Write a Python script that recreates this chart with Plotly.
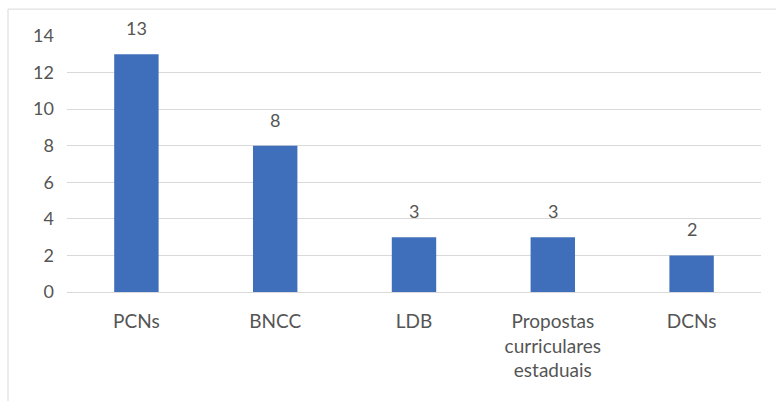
import plotly.graph_objects as go

categories = ["PCNs", "BNCC", "LDB", "Propostas<br>curriculares<br>estaduais", "DCNs"]
values = [13, 8, 3, 3, 2]
y_ticks = [0, 2, 4, 6, 8, 10, 12, 14]

font_family = "Lato, 'Open Sans', sans-serif"
text_color = "#555555"

fig = go.Figure(go.Bar(
    x=categories, y=values,
    marker=dict(color="#3F6FBA", line=dict(width=0)),
    cliponaxis=False,
))

for c, v in zip(categories, values):
    fig.add_annotation(x=c, y=v, text=str(v), showarrow=False, yanchor="middle",
                       yshift=26, font=dict(size=18, color=text_color, family=font_family))

fig.update_layout(
    width=776, height=401,
    margin=dict(l=67, r=15, t=36, b=109),
    paper_bgcolor="white", plot_bgcolor="white",
    bargap=0.68,
    showlegend=False,
    font=dict(family=font_family, size=18, color=text_color),
    xaxis=dict(showgrid=False, showline=True, linecolor="#d9d9d9", linewidth=1,
               ticks="", ticklabelstandoff=12, tickfont=dict(size=19, color=text_color)),
    yaxis=dict(range=[0, 14], tickvals=y_ticks, showgrid=True, gridcolor="#d9d9d9",
               gridwidth=1, zeroline=False, showline=False, ticks="",
               ticklabelstandoff=12, tickfont=dict(size=18, color=text_color)),
    shapes=[dict(type="rect", xref="paper", yref="paper",
                 x0=-0.085, x1=1.1, y0=-0.5, y1=1.105,
                 line=dict(color="#d9d9d9", width=1), layer="below")],
)

fig.write_html("out.html")
